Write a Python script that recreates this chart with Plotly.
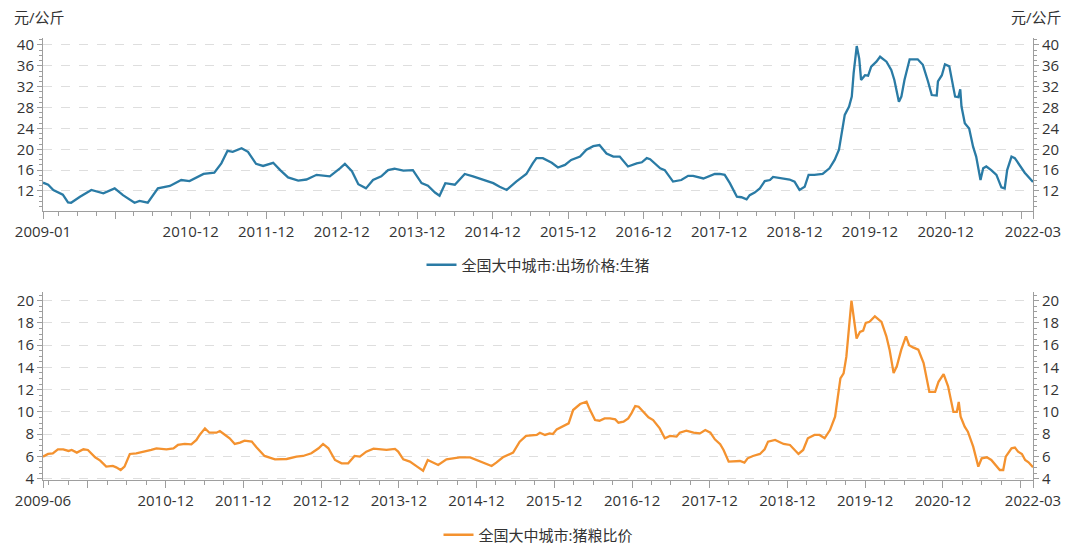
import plotly.graph_objects as go

# ---------------- data ----------------
hog_dates = [
    "2008-12-16",
    "2009-01-10", "2009-02-04", "2009-03-22", "2009-04-16", "2009-05-01", "2009-06-13", "2009-08-07", "2009-10-04", "2009-11-28",
    "2010-01-07", "2010-03-04", "2010-03-28", "2010-05-07", "2010-06-25", "2010-08-22", "2010-10-16", "2010-11-25",
    "2011-02-01", "2011-03-25", "2011-04-28", "2011-05-28", "2011-06-22", "2011-08-04", "2011-09-04", "2011-10-13", "2011-11-16",
    "2012-01-04", "2012-02-07", "2012-03-16", "2012-05-04", "2012-06-13", "2012-08-01", "2012-10-04", "2012-11-22", "2012-12-16",
    "2013-01-19", "2013-02-19", "2013-03-28", "2013-05-01", "2013-06-10", "2013-07-13", "2013-08-13", "2013-09-25", "2013-11-10", "2013-12-22",
    "2014-01-22", "2014-02-25", "2014-03-19", "2014-04-16", "2014-06-01", "2014-07-19", "2014-08-28", "2014-10-16", "2014-12-04",
    "2015-01-04", "2015-02-07", "2015-03-25", "2015-05-13", "2015-06-13", "2015-07-01", "2015-08-01", "2015-09-13", "2015-10-13", "2015-11-16", "2015-12-16",
    "2016-01-28", "2016-02-28", "2016-04-01", "2016-05-01", "2016-06-04", "2016-07-07", "2016-08-07", "2016-09-16", "2016-10-28", "2016-11-22", "2016-12-16",
    "2017-01-01", "2017-02-19", "2017-03-13", "2017-04-22", "2017-06-01", "2017-07-04", "2017-07-28", "2017-09-16", "2017-11-10", "2017-12-04", "2017-12-28",
    "2018-01-22", "2018-02-25", "2018-03-19", "2018-04-13", "2018-04-28", "2018-05-22", "2018-06-16", "2018-07-10", "2018-08-04", "2018-08-19", "2018-09-28", "2018-11-07", "2018-12-01", "2018-12-25",
    "2019-01-19", "2019-02-07", "2019-03-07", "2019-04-16", "2019-05-19", "2019-06-13", "2019-07-04", "2019-07-16", "2019-08-01", "2019-08-22", "2019-09-04", "2019-09-13", "2019-09-28", "2019-10-10", "2019-10-19", "2019-11-07", "2019-11-22", "2019-12-07",
    "2020-01-01", "2020-01-19", "2020-02-19", "2020-03-13", "2020-03-28", "2020-04-19", "2020-05-01", "2020-05-16", "2020-06-10", "2020-07-19", "2020-08-13", "2020-09-07", "2020-09-25", "2020-10-19", "2020-10-25", "2020-11-13", "2020-11-28", "2020-12-19",
    "2021-01-01", "2021-01-16", "2021-02-01", "2021-02-10", "2021-02-16", "2021-03-04", "2021-03-25", "2021-04-13", "2021-04-28", "2021-05-19", "2021-06-01", "2021-06-16", "2021-07-10", "2021-08-04", "2021-08-28", "2021-09-13", "2021-09-25", "2021-10-16", "2021-11-01", "2021-11-25", "2021-12-19",
    "2022-01-28",
]
hog_price = [
    13.6,
    13.2, 12.2, 11.3, 9.8, 9.75, 10.9, 12.2, 11.55, 12.5,
    11.2, 9.75, 10.1, 9.75, 12.5, 12.96, 14.1, 13.9,
    15.26, 15.5, 17.3, 19.7, 19.5, 20.2, 19.5, 17.2, 16.8,
    17.4, 16.0, 14.6, 14.0, 14.2, 15.1, 14.8, 16.35, 17.2,
    15.8, 13.3, 12.5, 14.1, 14.8, 16.0, 16.3, 15.9, 16.0, 13.5,
    13.0, 11.7, 11.1, 13.5, 13.2, 15.26, 14.8, 14.1, 13.5,
    12.8, 12.2, 13.8, 15.26, 17.3, 18.3, 18.3, 17.4, 16.5, 17.0, 17.95,
    18.6, 19.9, 20.6, 20.8, 19.2, 18.6, 18.6, 16.7, 17.3, 17.5, 18.3,
    18.1, 16.35, 16.0, 13.8, 14.1, 14.9, 14.9, 14.4, 15.26, 15.26, 15.1,
    13.5, 10.9, 10.8, 10.4, 11.2, 11.7, 12.5, 13.9, 14.1, 14.7, 14.4, 14.2, 13.8, 12.2,
    12.8, 15.1, 15.1, 15.26, 16.35, 17.95, 19.9, 23.1, 26.6, 28.2, 30.1, 34.6, 39.8, 37.4, 33.3, 34.2, 34.1, 35.85,
    36.8, 37.75, 36.8, 35.2, 33.3, 29.1, 30.1, 33.3, 37.25, 37.25, 36.2, 33.0, 30.4, 30.3, 33.0, 34.2, 36.3, 35.9,
    33.3, 30.1, 30.0, 31.5, 28.2, 25.0, 24.0, 20.5, 18.6, 14.1, 16.35, 16.7, 16.0, 15.1, 12.7, 12.5, 16.0, 18.6, 18.3, 17.0, 15.5,
    13.7,
]

ratio_dates = [
    "2009-05-04", "2009-05-28", "2009-06-19", "2009-07-13", "2009-08-07", "2009-09-01", "2009-09-16", "2009-10-10", "2009-11-10", "2009-12-01",
    "2010-01-04", "2010-01-28", "2010-02-25", "2010-03-28", "2010-04-13", "2010-05-04", "2010-05-22", "2010-06-16", "2010-07-16", "2010-08-25", "2010-09-25", "2010-10-19", "2010-12-05",
    "2011-01-07", "2011-01-28", "2011-03-01", "2011-04-01", "2011-04-25", "2011-05-10", "2011-06-04", "2011-06-25", "2011-07-28", "2011-08-13", "2011-09-07", "2011-09-28", "2011-10-22", "2011-11-16", "2011-12-07",
    "2012-01-10", "2012-02-01", "2012-03-10", "2012-04-28", "2012-06-22", "2012-08-07", "2012-09-07", "2012-10-16", "2012-11-19", "2012-12-10",
    "2013-01-04", "2013-02-04", "2013-03-07", "2013-04-07", "2013-05-07", "2013-06-01", "2013-07-01", "2013-08-04", "2013-09-04", "2013-10-04", "2013-11-13", "2013-11-28", "2013-12-22",
    "2014-01-22", "2014-02-25", "2014-03-25", "2014-04-16", "2014-05-10", "2014-06-04", "2014-07-13", "2014-08-13", "2014-09-13", "2014-11-01", "2014-12-10",
    "2015-01-10", "2015-02-10", "2015-03-04", "2015-04-04", "2015-05-22", "2015-06-22", "2015-07-22", "2015-09-10", "2015-09-25", "2015-10-19", "2015-11-10", "2015-11-25", "2015-12-13",
    "2016-01-13", "2016-02-07", "2016-02-28", "2016-04-01", "2016-05-01", "2016-05-16", "2016-06-10", "2016-07-01", "2016-07-25", "2016-08-19", "2016-09-13", "2016-09-28", "2016-10-22", "2016-11-13", "2016-11-28", "2016-12-16",
    "2017-01-01", "2017-01-22", "2017-02-16", "2017-03-10", "2017-04-10", "2017-05-04", "2017-05-28", "2017-06-28", "2017-07-13", "2017-08-13", "2017-09-16", "2017-10-16", "2017-11-10", "2017-12-04", "2017-12-25",
    "2018-01-19", "2018-02-04", "2018-02-28", "2018-03-28", "2018-04-22", "2018-05-13", "2018-05-28", "2018-06-22", "2018-07-25", "2018-08-16", "2018-09-01", "2018-10-04", "2018-11-13", "2018-12-13",
    "2019-01-22", "2019-02-13", "2019-03-07", "2019-04-07", "2019-05-01", "2019-05-25", "2019-06-19", "2019-07-13", "2019-07-25", "2019-08-07", "2019-08-22", "2019-09-04", "2019-09-28", "2019-10-22", "2019-11-07", "2019-11-22", "2019-12-04", "2019-12-22",
    "2020-01-16", "2020-02-16", "2020-03-10", "2020-03-25", "2020-04-13", "2020-04-28", "2020-05-19", "2020-06-10", "2020-06-25", "2020-07-13", "2020-08-07", "2020-09-01", "2020-09-28", "2020-10-25", "2020-11-10", "2020-12-04", "2020-12-25",
    "2021-01-19", "2021-02-04", "2021-02-13", "2021-02-22", "2021-03-13", "2021-03-28", "2021-04-22", "2021-05-16", "2021-06-01", "2021-06-25", "2021-07-16", "2021-08-25", "2021-09-10", "2021-09-22", "2021-10-19", "2021-11-04", "2021-11-19", "2021-12-07", "2021-12-22",
    "2022-01-07", "2022-01-28",
]
hog_grain_ratio = [
    5.98, 6.22, 6.28, 6.64, 6.64, 6.49, 6.58, 6.34, 6.64, 6.58,
    5.92, 5.62, 5.08, 5.14, 5.02, 4.78, 5.08, 6.22, 6.28, 6.43, 6.58, 6.73, 6.64,
    6.73, 7.03, 7.12, 7.09, 7.48, 7.93, 8.52, 8.13, 8.13, 8.28, 7.93, 7.63, 7.12, 7.24, 7.42,
    7.33, 6.82, 6.04, 5.74, 5.77, 5.98, 6.04, 6.28, 6.73, 7.12,
    6.73, 5.68, 5.38, 5.38, 6.04, 5.98, 6.43, 6.70, 6.64, 6.58, 6.67, 6.43, 5.74,
    5.53, 5.08, 4.72, 5.68, 5.44, 5.23, 5.74, 5.83, 5.92, 5.92, 5.62,
    5.44, 5.14, 5.44, 5.92, 6.34, 7.33, 7.84, 7.93, 8.13, 7.93, 8.07, 8.01, 8.43,
    8.73, 8.97, 10.17, 10.71, 10.92, 10.23, 9.27, 9.21, 9.42, 9.42, 9.33, 9.03, 9.12, 9.42, 9.87, 10.53,
    10.47, 10.02, 9.51, 9.27, 8.52, 7.63, 7.84, 7.78, 8.13, 8.31, 8.13, 8.07, 8.37, 8.13, 7.54,
    7.1, 6.58, 5.53, 5.53, 5.59, 5.44, 5.83, 6.04, 6.22, 6.64, 7.33, 7.48, 7.12, 7.03,
    6.22, 6.58, 7.63, 7.93, 7.93, 7.63, 8.37, 9.57, 11.07, 13.02, 13.47, 14.97, 20.0, 16.6, 17.2, 17.3, 18.0, 18.1,
    18.6, 18.1, 16.8, 15.6, 13.5, 14.1, 15.6, 16.8, 16.0, 15.8, 15.6, 14.4, 11.8, 11.8, 12.7, 13.4, 12.3,
    10.0, 10.0, 10.9, 9.57, 8.67, 8.22, 6.88, 5.08, 5.83, 5.92, 5.68, 4.78, 4.78, 5.98, 6.73, 6.79, 6.43, 6.22, 5.68,
    5.47, 5.02,
]

series_names = ["全国大中城市:出场价格:生猪", "全国大中城市:猪粮比价"]
unit_label = "元/公斤"

top_range_x = ["2008-12-16", "2022-01-28"]
bot_range_x = ["2009-05-04", "2022-01-28"]
top_tick_dates = ["2008-12-16", "2009-12-01", "2010-12-01", "2011-12-01", "2012-12-01", "2013-12-01", "2014-12-01",
                  "2015-12-01", "2016-12-01", "2017-12-01", "2018-12-01", "2019-12-01", "2020-12-01", "2021-12-01", "2022-01-28"]
top_tick_text = ["2009-01", "", "2010-12", "2011-12", "2012-12", "2013-12", "2014-12", "2015-12", "2016-12",
                 "2017-12", "2018-12", "2019-12", "2020-12", "", "2022-03"]
bot_tick_dates = ["2009-05-04"] + top_tick_dates[1:]
bot_tick_text = ["2009-06"] + top_tick_text[1:]

top_yticks = [12, 16, 20, 24, 28, 32, 36, 40]
bot_yticks = [4, 6, 8, 10, 12, 14, 16, 18, 20]
top_yrange = [8.16, 41.34]
bot_yrange = [3.88, 20.78]

# ---------------- styling ----------------
BLUE = "#2a7ba5"
ORANGE = "#f4922f"
AXIS = "#9e9e9e"
GRID = "#dedede"
TXT = "#333333"
FONT = "Open Sans, Noto Sans CJK SC, sans-serif"
FS = 15

W, H = 1080, 548
ML, MR, MT, MB = 43, 47, 38, 68
PH = H - MT - MB


def py(p):
    return (H - MB - p) / PH


def px(p):
    return (p - ML) / (W - ML - MR)


fig = go.Figure()
fig.add_trace(go.Scatter(x=hog_dates, y=hog_price, mode="lines", name=series_names[0],
                         line=dict(color=BLUE, width=2.3), xaxis="x", yaxis="y", legend="legend"))
fig.add_trace(go.Scatter(x=hog_dates, y=hog_price, mode="lines", showlegend=False, opacity=0,
                         hoverinfo="skip", line=dict(color=BLUE, width=1), xaxis="x", yaxis="y2"))
fig.add_trace(go.Scatter(x=ratio_dates, y=hog_grain_ratio, mode="lines", name=series_names[1],
                         line=dict(color=ORANGE, width=2.3), xaxis="x2", yaxis="y3", legend="legend2"))
fig.add_trace(go.Scatter(x=ratio_dates, y=hog_grain_ratio, mode="lines", showlegend=False, opacity=0,
                         hoverinfo="skip", line=dict(color=ORANGE, width=1), xaxis="x2", yaxis="y4"))

xcommon = dict(type="date", showline=True, linecolor=AXIS, linewidth=1, ticks="outside", ticklen=7,
               tickcolor=AXIS, tickwidth=1, showgrid=False, zeroline=False, tickmode="array",
               tickfont=dict(family=FONT, size=FS, color=TXT), ticklabelstandoff=0,
               minor=dict(ticks="outside", ticklen=4, tickcolor=AXIS, dtick="M3", tick0="2008-12-01", showgrid=False))

ycommon = dict(showline=True, linecolor=AXIS, linewidth=1, ticks="outside", ticklen=5, tickcolor=AXIS,
               tickwidth=1, zeroline=False, tickmode="array",
               tickfont=dict(family=FONT, size=FS, color=TXT), ticklabelstandoff=0)

top_dom = [py(211), 1.0]
bot_dom = [0.0, py(292)]

fig.update_layout(
    width=W, height=H, margin=dict(l=ML, r=MR, t=MT, b=MB, autoexpand=False),
    paper_bgcolor="white", plot_bgcolor="white",
    font=dict(family=FONT, size=FS, color=TXT),
    xaxis=dict(xcommon, domain=[0, 1], anchor="y", range=top_range_x,
               tickvals=top_tick_dates, ticktext=top_tick_text),
    xaxis2=dict(xcommon, domain=[0, 1], anchor="y3", range=bot_range_x,
                tickvals=bot_tick_dates, ticktext=bot_tick_text),
    yaxis=dict(ycommon, domain=top_dom, anchor="x", range=top_yrange, tickvals=top_yticks,
               showgrid=True, gridcolor=GRID, griddash="dash", gridwidth=1,
               minor=dict(ticks="outside", ticklen=3, tickcolor=AXIS, dtick=1, tick0=0, showgrid=False)),
    yaxis2=dict(ycommon, overlaying="y", side="right", anchor="x", range=top_yrange, tickvals=top_yticks,
                showgrid=False,
                minor=dict(ticks="outside", ticklen=3, tickcolor=AXIS, dtick=1, tick0=0, showgrid=False)),
    yaxis3=dict(ycommon, domain=bot_dom, anchor="x2", range=bot_yrange, tickvals=bot_yticks,
                showgrid=True, gridcolor=GRID, griddash="dash", gridwidth=1,
                minor=dict(ticks="outside", ticklen=3, tickcolor=AXIS, dtick=0.5, tick0=0, showgrid=False)),
    yaxis4=dict(ycommon, overlaying="y3", side="right", anchor="x2", range=bot_yrange, tickvals=bot_yticks,
                showgrid=False,
                minor=dict(ticks="outside", ticklen=3, tickcolor=AXIS, dtick=0.5, tick0=0, showgrid=False)),
    legend=dict(x=0.5, y=py(265), xanchor="center", yanchor="middle", orientation="h",
                font=dict(family=FONT, size=FS, color=TXT), itemwidth=30, bgcolor="rgba(0,0,0,0)"),
    legend2=dict(x=0.5, y=py(535), xanchor="center", yanchor="middle", orientation="h",
                 font=dict(family=FONT, size=FS, color=TXT), itemwidth=30, bgcolor="rgba(0,0,0,0)"),
    showlegend=True,
    annotations=[
        dict(text=unit_label, xref="paper", yref="paper", x=px(12), y=py(17), xanchor="left",
             yanchor="middle", showarrow=False, font=dict(family=FONT, size=FS, color=TXT)),
        dict(text=unit_label, xref="paper", yref="paper", x=px(1064), y=py(17), xanchor="right",
             yanchor="middle", showarrow=False, font=dict(family=FONT, size=FS, color=TXT)),
    ],
)

fig.write_html("out.html", config={"displayModeBar": False},
               post_script="document.body.style.margin='0';")
